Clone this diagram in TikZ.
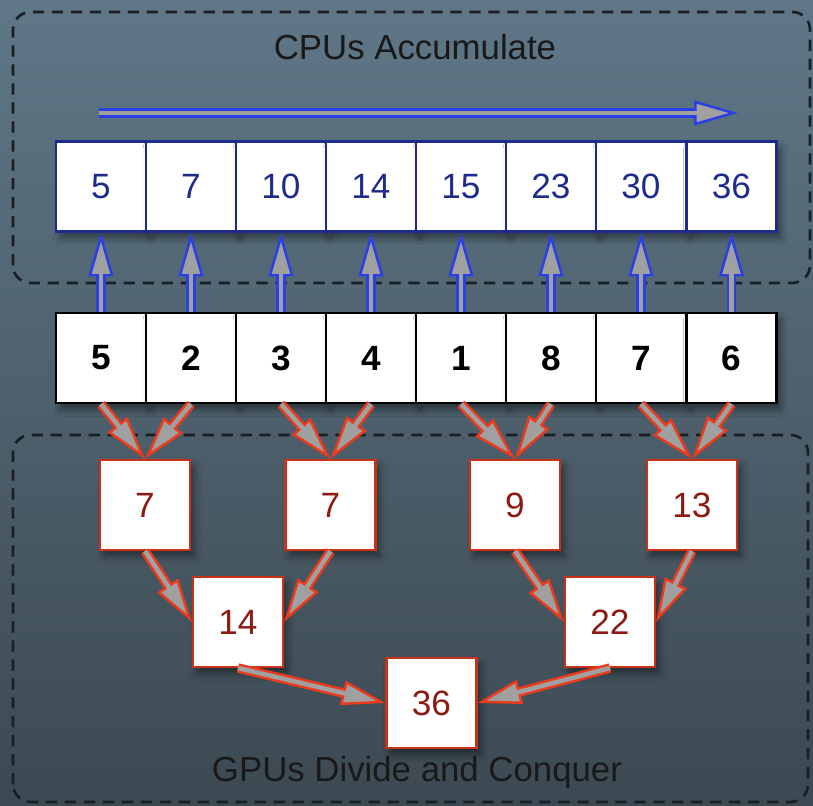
\documentclass[tikz,border=0pt]{standalone}
\usepackage{fontspec}
\setmainfont{Liberation Sans}
\usetikzlibrary{arrows.meta, positioning, shadows.blur}
\definecolor{bgtop}{HTML}{5F7787}
\definecolor{bgbot}{HTML}{3C4952}
\definecolor{cpublue}{HTML}{2B3FE6}
\definecolor{cpuink}{HTML}{1E2A8C}
\definecolor{gpured}{HTML}{EC3A1C}
\definecolor{gpuink}{HTML}{8C1A12}
\definecolor{tipgray}{HTML}{A0A0A0}
\definecolor{framegray}{HTML}{1A1F23}

\begin{document}
\begin{tikzpicture}[
    every node/.style={font=\fontsize{10}{12}\selectfont},
    cell/.style={draw, fill=white, minimum width=0.9cm, minimum height=0.9cm, inner sep=0pt, line width=0.6pt,
                 blur shadow={shadow xshift=1.2pt, shadow yshift=-1.8pt, shadow blur radius=2pt, shadow opacity=45}},
    sumcell/.style={cell, draw=cpuink, text=cpuink},
    incell/.style={cell, draw=black, font=\fontsize{10}{12}\selectfont\bfseries},
    gpucell/.style={cell, draw=gpured!85!black, text=gpuink},
    frame/.style={draw=framegray, dash pattern=on 3.2pt off 2.2pt, line width=0.75pt, rounded corners=5pt},
    title/.style={font=\fontsize{9.9}{12}\selectfont, text=black!90, anchor=base},
    % hollow arrow: coloured rim, grey core and grey head
    uparr/.style={draw=cpublue, line width=2.7pt,
                  -{Triangle[length=12.5pt, width=7pt, fill=tipgray, line width=0.7pt]},
                  postaction={draw=tipgray, line width=1.3pt, -, shorten >=10pt}},
    downarr/.style={uparr, draw=gpured}
]
    % backdrop
    \fill[top color=bgtop, bottom color=bgbot] (0,0) rectangle (8.13,8.06);
    \useasboundingbox (0,0) rectangle (8.13,8.06);

    % the two regions
    \draw[frame] (0.13,5.23) rectangle (8.10,7.94);
    \draw[frame] (0.13,0.04) rectangle (8.08,3.71);
    \node[title] (cpu) at (4.15,7.46) {CPUs Accumulate};
    \node[title] (gpu) at (4.17,0.24) {GPUs Divide and Conquer};

    % running sums, left to right
    \coordinate (sweep start) at (0.99,6.93);
    \coordinate (sweep end) at (7.38,6.93);
    \draw[uparr] (sweep start) -- (sweep end);

    \node[sumcell] (s1) at (1.01,6.195) {5};
    \node[sumcell] (s2) at (1.91,6.195) {7};
    \node[sumcell] (s3) at (2.81,6.195) {10};
    \node[sumcell] (s4) at (3.71,6.195) {14};
    \node[sumcell] (s5) at (4.61,6.195) {15};
    \node[sumcell] (s6) at (5.51,6.195) {23};
    \node[sumcell] (s7) at (6.41,6.195) {30};
    \node[sumcell] (s8) at (7.315,6.195) {36};

    % input values
    \node[incell] (x1) at (1.01,4.48) {5};
    \node[incell] (x2) at (1.91,4.48) {2};
    \node[incell] (x3) at (2.81,4.48) {3};
    \node[incell] (x4) at (3.71,4.48) {4};
    \node[incell] (x5) at (4.61,4.48) {1};
    \node[incell] (x6) at (5.51,4.48) {8};
    \node[incell] (x7) at (6.41,4.48) {7};
    \node[incell] (x8) at (7.315,4.48) {6};

    \draw[uparr] (x1.north) -- (s1.south);
    \draw[uparr] (x2.north) -- (s2.south);
    \draw[uparr] (x3.north) -- (s3.south);
    \draw[uparr] (x4.north) -- (s4.south);
    \draw[uparr] (x5.north) -- (s5.south);
    \draw[uparr] (x6.north) -- (s6.south);
    \draw[uparr] (x7.north) -- (s7.south);
    \draw[uparr] (x8.north) -- (s8.south);

    % pairwise sums
    \node[gpucell] (p1) at (1.45,3.01) {7};
    \node[gpucell] (p2) at (3.305,3.01) {7};
    \node[gpucell] (p3) at (5.15,3.01) {9};
    \node[gpucell] (p4) at (6.92,3.01) {13};
    \node[gpucell] (q1) at (2.38,1.84) {14};
    \node[gpucell] (q2) at (6.10,1.84) {22};
    \node[gpucell] (total) at (4.315,1.03) {36};

    \draw[downarr] (x1.south) -- (p1.north);
    \draw[downarr] (x2.south) -- (p1.north);
    \draw[downarr] (x3.south) -- (p2.north);
    \draw[downarr] (x4.south) -- (p2.north);
    \draw[downarr] (x5.south) -- (p3.north);
    \draw[downarr] (x6.south) -- (p3.north);
    \draw[downarr] (x7.south) -- (p4.north);
    \draw[downarr] (x8.south) -- (p4.north);

    \draw[downarr] (p1.south) -- (q1.west);
    \draw[downarr] (p2.south) -- (q1.east);
    \draw[downarr] (p3.south) -- (q2.west);
    \draw[downarr] (p4.south) -- (q2.east);

    \draw[downarr] (q1.south) -- (total.west);
    \draw[downarr] (q2.south) -- (total.east);
\end{tikzpicture}
\end{document}
